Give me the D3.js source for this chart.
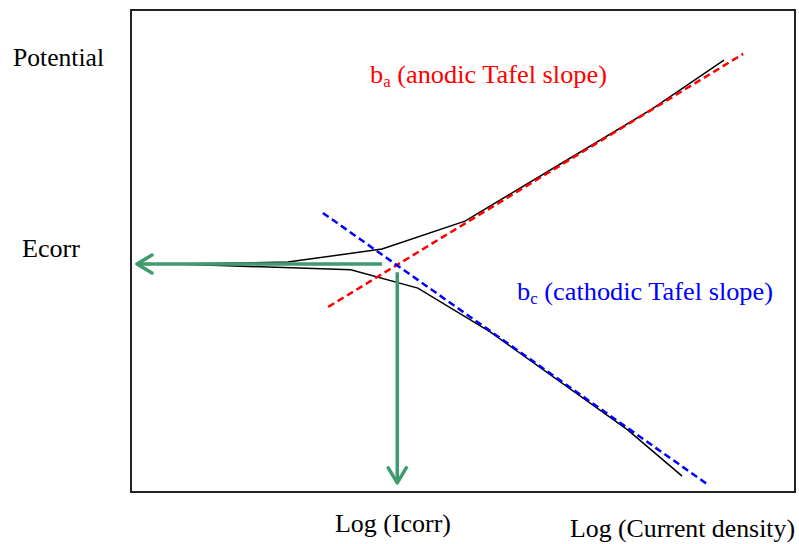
<!DOCTYPE html>
<html><head>
<script src="https://d3js.org/d3.v7.min.js"></script>
<style>
  body { margin: 0; background: #fff; }
</style>
</head>
<body>
<svg id="svg1" width="799" height="544"></svg>
<script>
// curve points: [log current, potential] in arbitrary units (0..100)
const anodicCurve = [[6.8,47.3],[23.6,47.7],[37.8,50.4],[50.3,56.2],[64.6,68.0],[78.5,79.5],[89.3,89.6]];
const cathodicCurve = [[6.8,47.3],[33.1,46.1],[43.2,42.3],[54.1,33.2],[74.8,12.9],[83.0,3.3]];
const anodicTafel = [[29.7,38.4],[92.2,90.9]];
const cathodicTafel = [[28.9,57.9],[86.7,1.7]];
const ecorrArrow = [[37.8,47.3],[0.9,47.3]];
const icorrArrow = [[40.1,45.6],[40.1,1.9]];

const svg = d3.select("#svg1");
const box = {left: 131, top: 10, right: 795, bottom: 492};
const serif = "'Liberation Serif', 'DejaVu Serif', serif";

let x = d3.scaleLinear().domain([0,100]).range([box.left, box.right]);
let y = d3.scaleLinear().domain([0,100]).range([box.bottom, box.top]);

svg.append("rect")
   .attr("x", box.left).attr("y", box.top)
   .attr("width", box.right-box.left).attr("height", box.bottom-box.top)
   .attr("fill", "none").attr("stroke", "#222").attr("stroke-width", 2);

let line = d3.line().x(d => x(d[0])).y(d => y(d[1]));

// measured curves
[anodicCurve, cathodicCurve].forEach(c => {
  svg.append("path").attr("d", line(c))
     .attr("fill","none").attr("stroke","#000").attr("stroke-width",1.5);
});

// tafel extrapolations
svg.append("path").attr("d", line(anodicTafel))
   .attr("fill","none").attr("stroke","#ff0000").attr("stroke-width",2.5)
   .attr("stroke-dasharray","7,4");
svg.append("path").attr("d", line(cathodicTafel))
   .attr("fill","none").attr("stroke","#0000ff").attr("stroke-width",2.5)
   .attr("stroke-dasharray","7,4");

// green arrows
const green = "#3f9b6e";
function arrow(pts) {
  let p0 = [x(pts[0][0]), y(pts[0][1])], p1 = [x(pts[1][0]), y(pts[1][1])];
  let dx = p1[0]-p0[0], dy = p1[1]-p0[1], len = Math.hypot(dx,dy);
  let ux = dx/len, uy = dy/len, L = 15, W = 9;
  svg.append("line").attr("x1",p0[0]).attr("y1",p0[1]).attr("x2",p1[0]).attr("y2",p1[1])
     .attr("stroke",green).attr("stroke-width",3.5);
  svg.append("path")
     .attr("d", `M${p1[0]-ux*L-uy*W},${p1[1]-uy*L+ux*W}L${p1[0]},${p1[1]}L${p1[0]-ux*L+uy*W},${p1[1]-uy*L-ux*W}`)
     .attr("fill","none").attr("stroke",green).attr("stroke-width",3.5)
     .attr("stroke-linecap","round").attr("stroke-linejoin","round");
}
arrow(ecorrArrow);
arrow(icorrArrow);

// labels (text is a bit wider than tall in the original, so stretch to width)
const fs = 25;
function label(tx, ty, w, s) {
  return svg.append("text").attr("x",tx).attr("y",ty)
            .attr("textLength", w).attr("lengthAdjust","spacingAndGlyphs")
            .style("font-family", serif).style("font-size", fs+"px").text(s);
}
label(13, 66, 91, "Potential");
label(22, 257, 58, "Ecorr");
label(335, 532, 116, "Log (Icorr)");
label(570, 537, 225, "Log (Current density)");

let ta = label(370, 83, 237, "").attr("fill","#ff0000");
ta.append("tspan").text("b");
ta.append("tspan").style("font-size","16px").attr("dy",4).text("a");
ta.append("tspan").attr("dy",-4).text(" (anodic Tafel slope)");

let tc = label(517, 300, 256, "").attr("fill","#0000ff");
tc.append("tspan").text("b");
tc.append("tspan").style("font-size","16px").attr("dy",4).text("c");
tc.append("tspan").attr("dy",-4).text(" (cathodic Tafel slope)");
</script>
</body></html>
